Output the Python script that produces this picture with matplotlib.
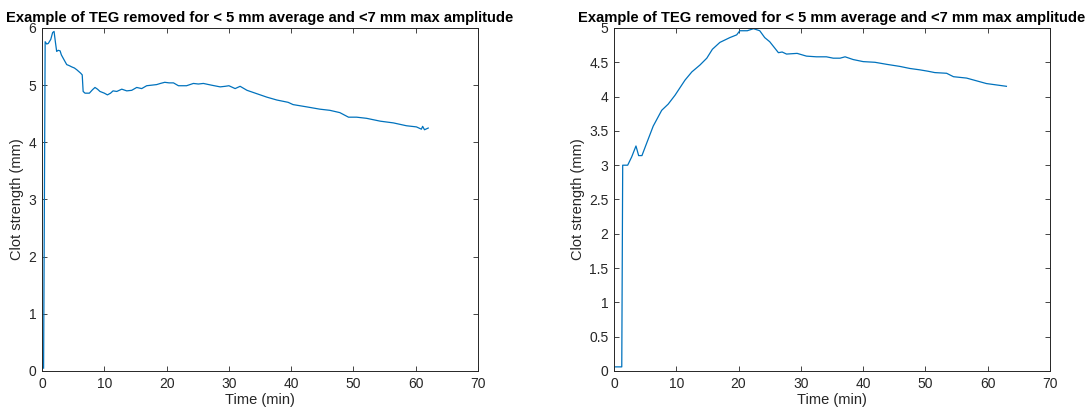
"""
TEG traces excluded from the clot strength analysis.

Two example thromboelastography curves (clot strength against time)
that were removed for having < 5 mm average and < 7 mm max amplitude.
"""

import matplotlib.pyplot as plt
from matplotlib.ticker import FormatStrFormatter, MultipleLocator


# First removed trace: clot strength (mm) against time (min)
TIME_A = [0.25, 0.5, 0.75, 1.0, 1.4, 1.7, 1.93, 2.15, 2.35, 2.6, 2.9, 3.1, 3.4,
          3.96, 4.4, 4.76, 5.2, 5.57, 6.2, 6.45, 6.6, 6.9, 7.6, 8.1, 8.5, 8.9,
          9.3, 10.0, 10.5, 11.0, 11.4, 12.0, 12.8, 13.6, 14.4, 15.2, 16.0,
          16.8, 17.6, 18.4, 19.0, 19.7, 20.4, 21.1, 21.9, 23.2, 24.3, 25.1,
          25.9, 27.2, 28.6, 29.4, 30.0, 31.0, 31.8, 32.9, 34.5, 36.1, 37.7,
          39.5, 40.3, 42.5, 44.6, 46.2, 47.8, 49.2, 50.5, 52.1, 54.3, 56.4,
          58.5, 60.1, 60.9, 61.1, 61.4, 62.0]
STRENGTH_A = [0.05, 5.76, 5.72, 5.73, 5.80, 5.92, 5.94, 5.75, 5.59, 5.61, 5.60,
              5.53, 5.47, 5.36, 5.34, 5.32, 5.30, 5.27, 5.21, 5.18, 4.89, 4.86,
              4.86, 4.92, 4.96, 4.93, 4.89, 4.86, 4.83, 4.86, 4.90, 4.89, 4.93,
              4.90, 4.91, 4.96, 4.94, 4.99, 5.00, 5.01, 5.03, 5.05, 5.04, 5.04,
              4.99, 4.99, 5.03, 5.02, 5.03, 5.00, 4.97, 4.98, 4.99, 4.94, 4.98,
              4.91, 4.85, 4.79, 4.74, 4.70, 4.66, 4.62, 4.58, 4.56, 4.52, 4.44,
              4.44, 4.42, 4.37, 4.34, 4.29, 4.27, 4.23, 4.28, 4.22, 4.25]

# Second removed trace
TIME_B = [0.0, 1.25, 1.4, 2.2, 2.84, 3.53, 3.96, 4.49, 5.2, 6.3, 7.66, 8.7, 9.8,
          11.4, 12.5, 13.8, 14.9, 15.8, 17.0, 18.6, 19.7, 20.2, 21.4, 22.4,
          23.4, 24.2, 25.0, 26.4, 27.0, 27.7, 29.4, 30.9, 32.5, 34.1, 35.2,
          36.3, 37.1, 38.4, 40.0, 41.9, 43.8, 45.9, 47.5, 49.1, 50.4, 51.5,
          53.4, 54.5, 56.6, 58.2, 59.8, 61.4, 63.0]
STRENGTH_B = [0.06, 0.06, 3.00, 3.00, 3.12, 3.28, 3.14, 3.14, 3.31, 3.57, 3.80,
              3.89, 4.02, 4.24, 4.36, 4.46, 4.56, 4.69, 4.79, 4.86, 4.90, 4.96,
              4.96, 4.99, 4.96, 4.86, 4.80, 4.64, 4.65, 4.62, 4.63, 4.59, 4.58,
              4.58, 4.56, 4.56, 4.58, 4.54, 4.51, 4.50, 4.47, 4.44, 4.41, 4.39,
              4.37, 4.35, 4.34, 4.29, 4.27, 4.23, 4.19, 4.17, 4.15]

TITLE = "Example of TEG removed for < 5 mm average and <7 mm max amplitude"
X_LABEL = "Time (min)"
Y_LABEL = "Clot strength (mm)"

LINE_COLOR = "#0072BD"
AXIS_COLOR = "#262626"


def style_axes(ax, y_max, y_step, y_fmt):
    """Boxed axes with inward ticks on every side."""
    ax.set_xlim(0, 70)
    ax.set_ylim(0, y_max)
    ax.xaxis.set_major_locator(MultipleLocator(10))
    ax.yaxis.set_major_locator(MultipleLocator(y_step))
    ax.yaxis.set_major_formatter(FormatStrFormatter(y_fmt))
    ax.tick_params(direction="in", length=3.6, width=0.6, colors=AXIS_COLOR,
                   labelsize=10, top=True, right=True, pad=4)
    for spine in ax.spines.values():
        spine.set_color(AXIS_COLOR)
        spine.set_linewidth(0.7)
    ax.set_title(TITLE, fontsize=10.6, fontweight="bold", pad=4)
    ax.set_xlabel(X_LABEL, fontsize=10.5, color=AXIS_COLOR, labelpad=2)
    ax.set_ylabel(Y_LABEL, fontsize=10.5, color=AXIS_COLOR, labelpad=3)


def main():
    plt.rcParams["font.family"] = ["Liberation Sans", "DejaVu Sans"]

    fig = plt.figure(figsize=(10.89, 4.16), dpi=100)
    ax_a = fig.add_axes([0.0386, 0.1082, 0.4004, 0.8245])
    ax_b = fig.add_axes([0.5638, 0.1082, 0.4004, 0.8245])

    ax_a.plot(TIME_A, STRENGTH_A, color=LINE_COLOR, linewidth=0.9)
    style_axes(ax_a, 6, 1, "%g")

    ax_b.plot(TIME_B, STRENGTH_B, color=LINE_COLOR, linewidth=0.9)
    style_axes(ax_b, 5, 0.5, "%g")

    fig.savefig("out.png", dpi=100)


if __name__ == "__main__":
    main()
